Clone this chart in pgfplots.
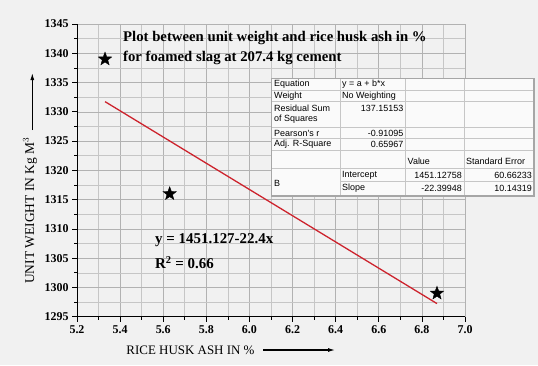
\documentclass[border=0pt]{standalone}
\usepackage{pgfplots}
\pgfplotsset{compat=1.18}
\usepackage{fontspec}
\setmainfont{Liberation Serif}
\newfontfamily\arial{Liberation Sans}
\usetikzlibrary{arrows.meta,shapes.geometric}
\definecolor{bgc}{RGB}{241,241,241}
\definecolor{fitred}{RGB}{205,35,45}
\pgfdeclareplotmark{fstar}{\node[star, star points=5, star point ratio=2.4, fill=black, draw=black, inner sep=0pt, minimum size=14bp] {};}
\newcommand{\tl}[1]{\textbf{#1}}
\begin{document}
\begin{tikzpicture}[x=1bp,y=1bp]
\path[use as bounding box, fill=bgc] (-77,-48.3) rectangle (461,316.7);
\begin{axis}[
  scale only axis, width=388bp, height=292.7bp,
  xmin=5.2, xmax=7.0, ymin=1295, ymax=1345,
  axis x line*=bottom, axis y line*=left,
  axis line style={line width=0.9pt},
  xtick={5.2,5.4,5.6,5.8,6.0,6.2,6.4,6.6,6.8,7.0}, minor x tick num=1,
  xticklabels={\tl{5.2},\tl{5.4},\tl{5.6},\tl{5.8},\tl{6.0},\tl{6.2},\tl{6.4},\tl{6.6},\tl{6.8},\tl{7.0}},
  ytick={1295,1300,1305,1310,1315,1320,1325,1330,1335,1340,1345}, minor y tick num=1,
  yticklabels={\tl{1295},\tl{1300},\tl{1305},\tl{1310},\tl{1315},\tl{1320},\tl{1325},\tl{1330},\tl{1335},\tl{1340},\tl{1345}},
  tick align=outside,
  major tick length=5bp, minor tick length=3bp,
  tick style={black, line width=0.7pt},
  grid=both,
  major grid style={gray!60, line width=0.6pt},
  minor grid style={gray!45, line width=0.6pt},
  xticklabel style={font=\fontsize{12}{12}\selectfont\bfseries},
  yticklabel style={font=\fontsize{12}{12}\selectfont\bfseries},
]
\addplot[fitred, line width=1.3pt] coordinates {(5.33,1331.74) (6.87,1297.24)};
\addplot[only marks, mark=fstar] coordinates {(5.33,1339) (5.63,1316) (6.87,1299)};
\end{axis}
% title
\node[anchor=base west, inner sep=0pt, font=\fontsize{14.8}{16}\selectfont\bfseries] at (46,275) {Plot between unit weight and rice husk ash in \%};
\node[anchor=base west, inner sep=0pt, font=\fontsize{14.8}{16}\selectfont\bfseries] at (46,255) {for foamed slag at 207.4 kg cement};
% equation
\node[anchor=base west, inner sep=0pt, font=\fontsize{15}{16}\selectfont\bfseries] at (78,73.4) {y = 1451.127-22.4x};
\node[anchor=base west, inner sep=0pt, font=\fontsize{15}{16}\selectfont\bfseries] at (78,48.4) {R$^{\mathbf{2}}$ = 0.66};
% axis labels
\node[font=\fontsize{13}{14}\selectfont] at (113.5,-33.3) {RICE HUSK ASH IN \%};
\draw[-{Latex[length=7bp,width=4bp]}, line width=1.1pt] (186,-33.3) -- (258,-33.3);
\node[rotate=90, font=\fontsize{13.5}{14}\selectfont] at (-47,106) {UNIT WEIGHT IN Kg M$^3$};
\draw[-{Latex[length=7bp,width=4bp]}, line width=1.1pt] (-44.7,186.7) -- (-44.7,243.7);
% table
\fill[gray!4] (194.7,120.7) rectangle (457,238.2);
\begin{scope}[gray!45, line width=0.5pt]
\draw (194.7,226.7) -- (457,226.7);
\draw (194.7,215.2) -- (457,215.2);
\draw (194.7,189.7) -- (457,189.7);
\draw (194.7,178.2) -- (457,178.2);
\draw (194.7,166.7) -- (457,166.7);
\draw (194.7,148.7) -- (457,148.7);
\draw (263,135.7) -- (457,135.7);
\draw (263,120.7) -- (263,238.2);
\draw (328.7,120.7) -- (328.7,238.2);
\draw (387,120.7) -- (387,238.2);
\end{scope}
\draw[gray!70, line width=1.1pt] (194.7,120.7) rectangle (457,238.2);
\begin{scope}[font=\arial\fontsize{9}{10.5}\selectfont, inner sep=0pt]
\node[anchor=west] at (197,232.2) {Equation};
\node[anchor=west] at (265,232.2) {y = a + b*x};
\node[anchor=west] at (197,220.9) {Weight};
\node[anchor=west] at (265,220.9) {No Weighting};
\node[anchor=west, align=left] at (197,202.5) {Residual Sum\\of Squares};
\node[anchor=east] at (326.5,208) {137.15153};
\node[anchor=west] at (197,183.7) {Pearson's r};
\node[anchor=east] at (326.5,183.7) {-0.91095};
\node[anchor=west] at (197,172.2) {Adj. R-Square};
\node[anchor=east] at (326.5,172.2) {0.65967};
\node[anchor=west] at (330.5,155.7) {Value};
\node[anchor=west] at (389,155.7) {Standard Error};
\node[anchor=west] at (197,133.7) {B};
\node[anchor=west] at (265,141.7) {Intercept};
\node[anchor=west] at (265,128.2) {Slope};
\node[anchor=east] at (385,141.7) {1451.12758};
\node[anchor=east] at (385,128.2) {-22.39948};
\node[anchor=east] at (455,141.7) {60.66233};
\node[anchor=east] at (455,128.2) {10.14319};
\end{scope}
\end{tikzpicture}
\end{document}
